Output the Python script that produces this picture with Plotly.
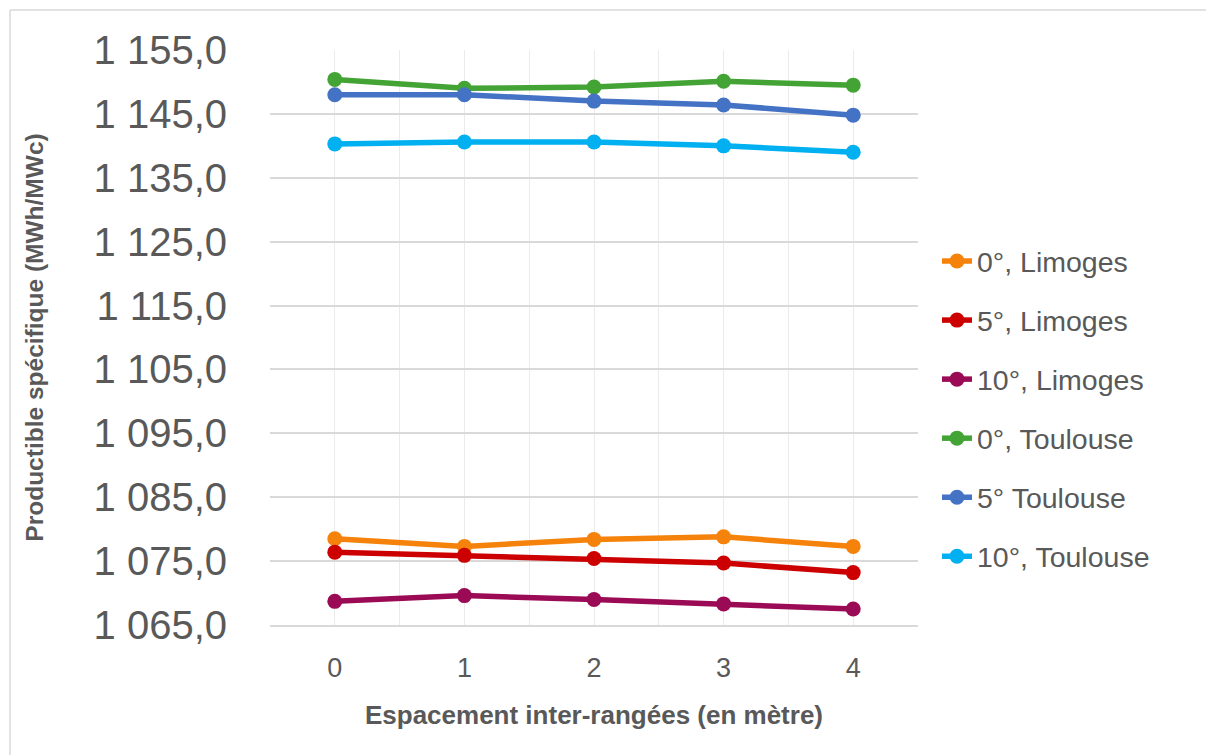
import plotly.graph_objects as go

# ---- data ----
spacing = [0, 1, 2, 3, 4]
series_names = ["0°, Limoges", "5°, Limoges", "10°, Limoges",
                "0°, Toulouse", "5° Toulouse", "10°, Toulouse"]
lim_0 = [1078.5, 1077.3, 1078.4, 1078.8, 1077.3]
lim_5 = [1076.4, 1075.9, 1075.4, 1074.7, 1073.2]
lim_10 = [1068.7, 1069.6, 1069.0, 1068.3, 1067.5]
tou_0 = [1150.4, 1149.0, 1149.2, 1150.1, 1149.5]
tou_5 = [1148.0, 1148.0, 1147.0, 1146.4, 1144.8]
tou_10 = [1140.3, 1140.6, 1140.6, 1140.0, 1139.0]
y_tick_values = [1065, 1075, 1085, 1095, 1105, 1115, 1125, 1135, 1145, 1155]
y_tick_labels = ["1 065,0", "1 075,0", "1 085,0", "1 095,0", "1 105,0",
                 "1 115,0", "1 125,0", "1 135,0", "1 145,0", "1 155,0"]
x_tick_labels = ["0", "1", "2", "3", "4"]

colors = ["#F5820A", "#CC0000", "#9B0A55", "#43A435", "#4472C4", "#00B0F0"]
all_series = [lim_0, lim_5, lim_10, tou_0, tou_5, tou_10]

FONT = "Liberation Sans"
GREY = "#595959"

fig = go.Figure()
for i, (name, vals) in enumerate(zip(series_names, all_series)):
    fig.add_trace(go.Scatter(
        x=spacing, y=vals, name=name, mode="lines+markers",
        legendgroup=f"g{i}",
        line=dict(color=colors[i], width=5.5),
        marker=dict(color=colors[i], size=15),
    ))

W, H = 1206, 755
L, R, T, B = 270, 288, 50, 130
pw, ph = W - L - R, H - T - B

def px_x(p):
    return (p - L) / pw

def px_y(p):
    return (H - B - p) / ph

fig.update_layout(
    width=W, height=H,
    margin=dict(l=L, r=R, t=T, b=B, autoexpand=False),
    paper_bgcolor="white", plot_bgcolor="white",
    font=dict(family=FONT, color=GREY),
    showlegend=True,
    legend=dict(
        x=px_x(937), y=px_y(236), xanchor="left", yanchor="top",
        font=dict(size=28.5, color=GREY, family=FONT),
        tracegroupgap=19, bgcolor="rgba(0,0,0,0)",
        itemclick=False,
    ),
    xaxis=dict(
        range=[-0.5, 4.5], tickvals=spacing, ticktext=x_tick_labels,
        showgrid=True, gridcolor="#EBEBEB", gridwidth=1,
        minor=dict(tickvals=[-0.5, 0.5, 1.5, 2.5, 3.5, 4.5], showgrid=True,
                   gridcolor="#EBEBEB", gridwidth=1),
        showline=True, linecolor="#D9D9D9", linewidth=1.5,
        zeroline=False, ticks="",
        tickfont=dict(size=27, color=GREY, family=FONT),
        ticklabelstandoff=18,
        title=dict(text="<b>Espacement inter-rangées (en mètre)</b>",
                   font=dict(size=26, color=GREY, family=FONT), standoff=24),
    ),
    yaxis=dict(
        range=[1065, 1155], tickvals=y_tick_values, ticktext=y_tick_labels,
        showgrid=True, gridcolor="#D9D9D9", gridwidth=1.5,
        zeroline=False, showline=False, ticks="",
        tickfont=dict(size=40, color=GREY, family=FONT),
        ticklabelstandoff=42,
        title=dict(text="<b>Productible spécifique (MWh/MWc)</b>",
                   font=dict(size=24.5, color=GREY, family=FONT), standoff=42),
    ),
    shapes=[
        dict(type="line", xref="paper", yref="paper",
             x0=px_x(10), x1=px_x(1206), y0=px_y(10), y1=px_y(10),
             line=dict(color="#D9D9D9", width=1.5)),
        dict(type="line", xref="paper", yref="paper",
             x0=px_x(10), x1=px_x(10), y0=px_y(10), y1=px_y(755),
             line=dict(color="#D9D9D9", width=1.5)),
    ],
)

fig.write_html("out.html")
